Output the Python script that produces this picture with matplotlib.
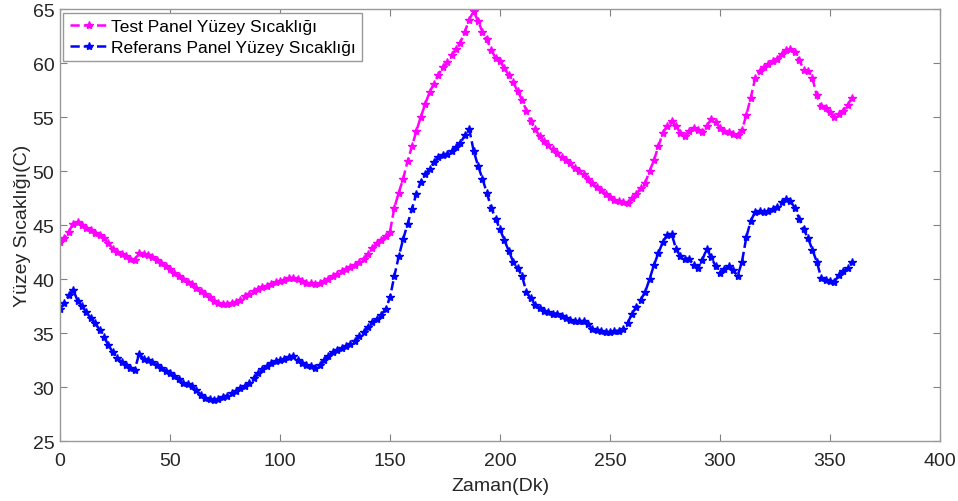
import numpy as np
import matplotlib
matplotlib.use("Agg")
import matplotlib.pyplot as plt

plt.rcParams['font.family'] = ['Liberation Sans', 'DejaVu Sans']

# time (minutes), sampled every 2 minutes
zaman = list(range(0, 362, 2))

test_panel = [
    43.4, 43.8, 44.4, 45.1, 45.3, 45.0, 44.7, 44.5, 44.3, 44.1,
    43.8, 43.3, 42.8, 42.5, 42.3, 42.1, 41.9, 41.8, 42.4, 42.3,
    42.2, 42.0, 41.8, 41.5, 41.2, 40.9, 40.6, 40.3, 40.0, 39.7,
    39.5, 39.2, 38.9, 38.6, 38.3, 38.0, 37.8, 37.7, 37.7, 37.8,
    37.9, 38.1, 38.4, 38.6, 38.9, 39.1, 39.3, 39.4, 39.5, 39.7,
    39.8, 39.9, 40.1, 40.1, 40.0, 39.8, 39.6, 39.6, 39.5, 39.6,
    39.8, 40.0, 40.3, 40.5, 40.7, 40.9, 41.1, 41.3, 41.6, 41.9,
    42.3, 42.9, 43.3, 43.6, 44.0, 44.4, 46.6, 48.0, 49.3, 50.9,
    52.3, 53.7, 55.0, 56.2, 57.3, 58.1, 58.9, 59.6, 60.1, 60.7,
    61.3, 61.9, 62.9, 64.0, 64.8, 63.9, 62.9, 62.2, 61.2, 60.5,
    60.2, 59.5, 58.9, 58.2, 57.4, 56.6, 55.6, 54.6, 53.9, 53.2,
    52.8, 52.4, 52.0, 51.7, 51.3, 51.0, 50.7, 50.3, 50.0, 49.7,
    49.3, 48.9, 48.5, 48.2, 47.9, 47.6, 47.3, 47.2, 47.1, 47.0,
    47.5, 47.9, 48.4, 48.9, 50.0, 51.0, 52.3, 53.5, 54.2, 54.6,
    54.2, 53.5, 53.2, 53.7, 54.0, 53.8, 53.6, 54.2, 54.8, 54.5,
    54.0, 53.7, 53.6, 53.4, 53.3, 53.8, 55.2, 56.8, 58.6, 59.3,
    59.6, 59.9, 60.2, 60.4, 60.8, 61.2, 61.3, 61.0, 60.3, 59.4,
    59.3, 58.6, 57.0, 56.0, 55.8, 55.5, 55.0, 55.3, 55.6, 56.1, 56.8,
]

referans_panel = [
    37.2, 37.8, 38.5, 39.0, 38.0, 37.5, 36.9, 36.4, 35.9, 35.3,
    34.6, 33.9, 33.2, 32.7, 32.3, 32.0, 31.8, 31.6, 33.1, 32.6,
    32.5, 32.3, 32.0, 31.8, 31.5, 31.3, 31.0, 30.7, 30.4, 30.3,
    30.1, 29.7, 29.3, 29.0, 28.9, 28.8, 28.9, 29.1, 29.2, 29.4,
    29.6, 29.9, 30.1, 30.4, 30.8, 31.3, 31.7, 31.9, 32.2, 32.4,
    32.5, 32.6, 32.8, 32.9, 32.5, 32.2, 32.0, 31.9, 31.8, 32.0,
    32.5, 32.9, 33.2, 33.4, 33.6, 33.8, 34.0, 34.3, 34.7, 35.1,
    35.6, 36.0, 36.3, 36.7, 37.2, 38.3, 40.3, 42.1, 43.7, 45.1,
    46.5, 47.9, 49.0, 49.7, 50.2, 50.8, 51.3, 51.5, 51.6, 51.9,
    52.2, 52.6, 53.3, 53.9, 51.9, 50.5, 49.3, 48.0, 46.6, 45.6,
    44.6, 43.6, 42.6, 41.6, 41.0, 40.3, 38.8, 38.2, 37.6, 37.3,
    37.0, 36.9, 36.8, 36.8, 36.6, 36.4, 36.2, 36.1, 36.1, 36.1,
    35.8, 35.4, 35.3, 35.2, 35.1, 35.1, 35.2, 35.2, 35.4, 35.9,
    36.8, 37.4, 38.1, 38.8, 40.0, 41.3, 42.4, 43.4, 44.1, 44.2,
    42.8, 42.1, 41.9, 41.9, 41.3, 41.0, 41.8, 42.8, 42.0, 41.2,
    40.6, 40.9, 41.2, 40.8, 40.3, 41.6, 43.9, 45.4, 46.2, 46.3,
    46.2, 46.3, 46.5, 46.7, 47.1, 47.4, 47.2, 46.6, 45.6, 44.6,
    43.8, 42.7, 41.6, 40.1, 39.9, 39.8, 39.7, 40.4, 40.7, 41.0, 41.6,
]

series_labels = ["Test Panel Yüzey Sıcaklığı", "Referans Panel Yüzey Sıcaklığı"]
x_ticks = [0, 50, 100, 150, 200, 250, 300, 350, 400]
y_ticks = [25, 30, 35, 40, 45, 50, 55, 60, 65]

fig = plt.figure(figsize=(9.58, 5.02), dpi=100)
ax = fig.add_axes([0.0626, 0.1195, 0.9186, 0.8605])

ax.plot(zaman, test_panel, linestyle='--', color='#FF00FF', marker='*',
        markersize=6, markeredgewidth=1.0, linewidth=1.8, label=series_labels[0])
ax.plot(zaman, referans_panel, linestyle='--', color='#0000FF', marker='*',
        markersize=6, markeredgewidth=1.0, linewidth=1.8, label=series_labels[1])

ax.set_xlim(0, 400)
ax.set_ylim(25, 65)
ax.set_xticks(x_ticks)
ax.set_yticks(y_ticks)
ax.tick_params(direction='in', top=True, right=True, length=5, width=0.8,
               colors='#808080', labelcolor='#262626', labelsize=14)
ax.tick_params(axis='x', pad=8)
ax.tick_params(axis='y', pad=4)
for s in ax.spines.values():
    s.set_color('#999999')
    s.set_linewidth(1.0)

ax.set_xlabel("Zaman(Dk)", fontsize=14, color='#262626', labelpad=6)
ax.set_ylabel("Yüzey Sıcaklığı(C)", fontsize=14, color='#262626', labelpad=1)

leg = ax.legend(loc='upper left', fontsize=12.5, fancybox=False, framealpha=1,
                edgecolor='#999999', borderaxespad=0.2, handlelength=2.2,
                handletextpad=0.2, borderpad=0.35, labelspacing=0.35)
leg.get_frame().set_linewidth(1.0)

fig.savefig("out.png", dpi=100)
